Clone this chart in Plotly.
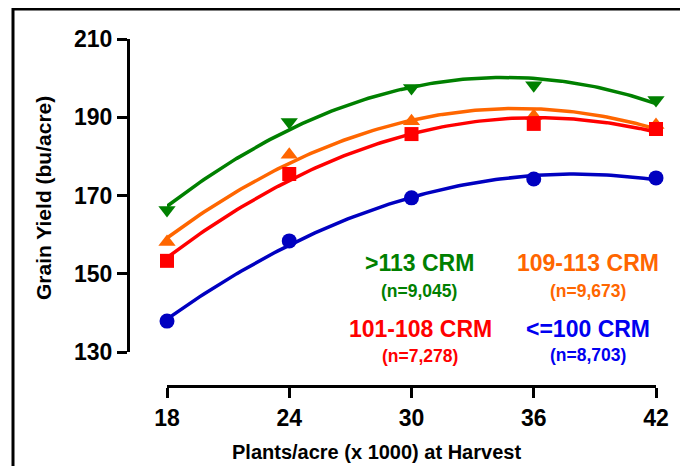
import numpy as np
import plotly.graph_objects as go

# ---- data ----
plants = [18, 24, 30, 36, 42]
tick_y = [130, 150, 170, 190, 210]

crm_gt113 = [166.3, 188.8, 197.5, 198.2, 194.4]
crm_109_113 = [158.1, 180.4, 189.0, 190.3, 188.0]
crm_101_108 = [153.3, 175.5, 185.7, 188.3, 187.0]
crm_le100 = [137.9, 158.4, 169.4, 174.2, 174.5]

group_names = [">113 CRM", "109-113 CRM", "101-108 CRM", "<=100 CRM"]
group_counts = ["(n=9,045)", "(n=9,673)", "(n=7,278)", "(n=8,703)"]

FONT = "Liberation Sans, Arial, sans-serif"

series = [
    (crm_gt113, "#008000", "#008000", "triangle-down", 15),
    (crm_109_113, "#FF6600", "#FF6600", "triangle-up", 15),
    (crm_101_108, "#FF0000", "#FF0000", "square", 14),
    (crm_le100, "#0000C0", "#0000F0", "circle", 15),
]

fig = go.Figure()
xs = np.linspace(min(plants), max(plants), 120)
for vals, col, tcol, sym, sz in series:
    coef = np.polyfit(plants, vals, 2)
    fig.add_trace(go.Scatter(x=xs, y=np.polyval(coef, xs), mode="lines",
                             line=dict(color=col, width=3.5), cliponaxis=False,
                             hoverinfo="skip", showlegend=False))
    fig.add_trace(go.Scatter(x=plants, y=vals, mode="markers",
                             marker=dict(symbol=sym, size=sz, color=col, line=dict(width=0)),
                             cliponaxis=False, showlegend=False))

# page body adds an 8px offset, so the figure is laid out in shifted pixels
OFF = 8
W, H = 688 - OFF, 466 - OFF
L = 128 - OFF
T = 39 - OFF
B = H - (386 - OFF)
R = W - (656 - OFF)
pw = W - L - R
ph = H - T - B
x0px = 167 - OFF
y0px = 352 - OFF


def px(xp):
    return (xp - OFF - L) / pw


def py(yp):
    return (H - B - (yp - OFF)) / ph


fig.update_layout(
    width=W, height=H,
    margin=dict(l=L, r=R, t=T, b=B, pad=0),
    paper_bgcolor="white", plot_bgcolor="white",
    font=dict(family=FONT, color="black"),
    xaxis=dict(domain=[(x0px - L) / pw, 1], range=[18, 42], anchor="free", position=0,
               tickvals=plants, ticktext=[str(p) for p in plants],
               tickfont=dict(size=23, family=FONT, weight="bold", color="black"),
               showgrid=False, zeroline=False, showline=True, linecolor="black", linewidth=3,
               ticks="outside", ticklen=10, tickwidth=3, tickcolor="black"),
    yaxis=dict(domain=[(H - B - y0px) / ph, 1], range=[130, 210], anchor="free", position=0,
               tickvals=tick_y, ticktext=[str(v) for v in tick_y],
               tickfont=dict(size=23, family=FONT, weight="bold", color="black"),
               showgrid=False, zeroline=False, showline=True, linecolor="black", linewidth=3,
               ticks="outside", ticklen=10, tickwidth=3, tickcolor="black"),
)

# frame around the figure
fig.add_shape(type="rect", xref="paper", yref="paper",
              x0=px(13), x1=px(685), y0=py(490), y1=py(9),
              line=dict(color="black", width=3), fillcolor="rgba(0,0,0,0)", layer="below")

# axis titles
fig.add_annotation(xref="paper", yref="paper", x=px(43), y=py(198),
                   text="Grain Yield (bu/acre)", textangle=-90, showarrow=False,
                   font=dict(size=21, family=FONT, weight="bold", color="black"),
                   xanchor="center", yanchor="middle")
fig.add_annotation(xref="paper", yref="paper", x=px(376), y=py(452),
                   text="Plants/acre (x 1000) at Harvest", showarrow=False,
                   font=dict(size=20, family=FONT, weight="bold", color="black"),
                   xanchor="center", yanchor="middle")

# group labels (positions in reference pixels)
label_pos = [(419, 263, 291), (588, 263, 291), (420, 329, 356), (588, 329, 355)]
for (name, cnt, (lx, ly1, ly2), s) in zip(group_names, group_counts, label_pos, series):
    tcol = s[2]
    fig.add_annotation(xref="paper", yref="paper", x=px(lx), y=py(ly1),
                       text=name.replace("<", "&lt;").replace(">", "&gt;"),
                       showarrow=False, xanchor="center", yanchor="middle",
                       font=dict(size=23, family=FONT, weight="bold", color=tcol))
    fig.add_annotation(xref="paper", yref="paper", x=px(lx), y=py(ly2), text=cnt,
                       showarrow=False, xanchor="center", yanchor="middle",
                       font=dict(size=17.5, family=FONT, weight="bold", color=tcol))

fig.write_html("out.html")
